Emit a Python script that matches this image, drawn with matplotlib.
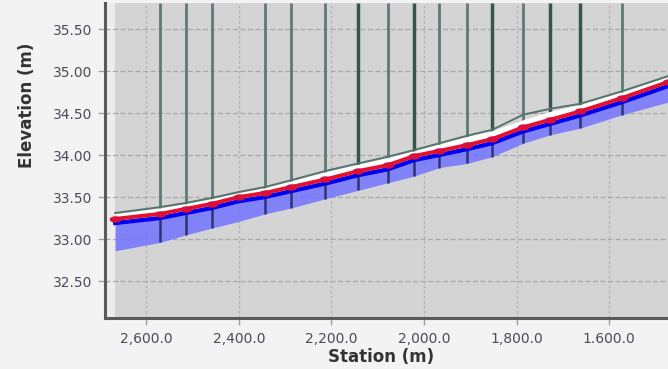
import matplotlib
matplotlib.use("Agg")
import matplotlib.pyplot as plt
from matplotlib.markers import MarkerStyle
from matplotlib.transforms import Affine2D

# ---- data ----
stations = [2667, 2570, 2514, 2458, 2400, 2343, 2287, 2213, 2142, 2078, 2021,
            1967, 1907, 1853, 1786, 1728, 1663, 1572, 1473]
ground = [33.31, 33.38, 33.43, 33.49, 33.56, 33.62, 33.70, 33.81, 33.90, 33.98, 34.06,
          34.14, 34.23, 34.30, 34.48, 34.55, 34.61, 34.76, 34.94]
white_top = [33.30, 33.37, 33.42, 33.48, 33.55, 33.61, 33.69, 33.80, 33.89, 33.97, 34.05,
             34.13, 34.22, 34.29, 34.42, 34.52, 34.60, 34.75, 34.93]
water = [33.24, 33.30, 33.36, 33.42, 33.50, 33.55, 33.62, 33.71, 33.81, 33.88, 33.99,
         34.05, 34.12, 34.19, 34.33, 34.42, 34.52, 34.68, 34.87]
blue_line = [33.19, 33.25, 33.31, 33.37, 33.45, 33.50, 33.57, 33.66, 33.76, 33.83, 33.94,
             34.00, 34.07, 34.14, 34.28, 34.37, 34.47, 34.63, 34.82]
bottom = [32.86, 32.96, 33.05, 33.13, 33.21, 33.30, 33.37, 33.48, 33.58, 33.67, 33.75,
          33.85, 33.90, 33.98, 34.14, 34.24, 34.32, 34.48, 34.63]

xsec_stations = [2570, 2514, 2458, 2343, 2287, 2213, 2142, 2078, 2021,
                 1967, 1907, 1853, 1786, 1728, 1663, 1572]
heavy_stations = [2142, 2021, 1853, 1728, 1663]

x_ticks = [2600, 2400, 2200, 2000, 1800, 1600]
x_tick_labels = ["2,600.0", "2,400.0", "2,200.0", "2,000.0", "1,800.0", "1.600.0"]
y_ticks = [32.5, 33.0, 33.5, 34.0, 34.5, 35.0, 35.5]
y_tick_labels = ["32.50", "33.00", "33.50", "34.00", "34.50", "35.00", "35.50"]

# ---- figure ----
fig = plt.figure(figsize=(6.68, 3.69), dpi=100, facecolor="#f3f3f3")
ax = fig.add_axes([105 / 668, 1 - 318 / 369, 563 / 668, 315 / 369])
ax.set_facecolor("#ececec")
ax.set_xlim(2689, 1473)
ax.set_ylim(32.06, 35.81)

ax.axvspan(stations[0], 1473, color="#d4d4d4", zorder=0.1, lw=0)

ax.set_axisbelow(True)
ax.xaxis.grid(True, color="#b0b0b0", linestyle=(0, (2, 2)), linewidth=0.9)
ax.yaxis.grid(True, color="#a8a8a8", linestyle=(0, (4, 2)), linewidth=0.9)

# cross-section vertical lines
for s in xsec_stations:
    i = stations.index(s)
    heavy = s in heavy_stations
    ax.plot([s, s], [water[i], 35.81], color="#37554f" if heavy else "#5c7a76",
            lw=2.5 if heavy else 2.0, zorder=2, solid_capstyle="butt")

# blue fill
ax.fill_between(stations, bottom, blue_line, color="#7373ff", alpha=0.85, lw=0, zorder=3)
for s in xsec_stations:
    i = stations.index(s)
    ax.plot([s, s], [bottom[i], water[i]], color="#2a3575",
            lw=1.8, zorder=3.5, solid_capstyle="butt")

# white band and lines
ax.fill_between(stations, water, white_top, color="white", lw=0, zorder=4)
ax.plot(stations, ground, color="#56746f", lw=1.4, zorder=5)
ax.plot(stations, blue_line, color="#0000f0", lw=3.0, zorder=5)
ms = MarkerStyle("o", transform=Affine2D().scale(1.8, 1.0))
ax.plot(stations, water, color="#e8102e", lw=2.8, zorder=6,
        marker=ms, markersize=4.6, markerfacecolor="#d8103a", markeredgewidth=0)

# axes styling
for side in ["top", "right"]:
    ax.spines[side].set_visible(False)
for side in ["left", "bottom"]:
    ax.spines[side].set_color("#5a5a5a")
    ax.spines[side].set_linewidth(2.2)

ax.set_xticks(x_ticks)
ax.set_xticklabels(x_tick_labels)
ax.set_yticks(y_ticks)
ax.set_yticklabels(y_tick_labels)
ax.tick_params(axis="x", length=5, width=1, color="#a0a0a0", pad=5,
               labelsize=10, labelcolor="#4a4a5a")
ax.tick_params(axis="y", length=5, width=1, color="#a0a0a0", pad=4,
               labelsize=10, labelcolor="#4a4a5a")

fig.text(381 / 668, 1 - 357 / 369, "Station (m)", ha="center", va="center",
         fontsize=12, fontweight="bold", color="#333333")
fig.text(27 / 668, 1 - 105 / 369, "Elevation (m)", ha="center", va="center",
         rotation=90, fontsize=12, fontweight="bold", color="#333333")

fig.savefig("out.png", dpi=100, facecolor=fig.get_facecolor())
